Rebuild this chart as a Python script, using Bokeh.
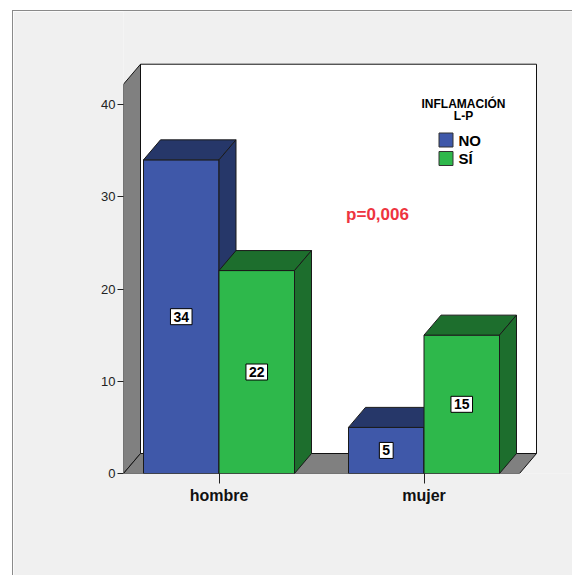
from bokeh.plotting import figure
from bokeh.models import Range1d, FixedTicker, Label
from bokeh.embed import file_html
from bokeh.resources import INLINE

# ---- data ----
categories = ["hombre", "mujer"]
series = ["NO", "SÍ"]
no_vals = [34, 5]
si_vals = [22, 15]
y_ticks = [0, 10, 20, 30, 40]
y_axis_title = "n"
legend_title = ["INFLAMACIÓN", "L-P"]
p_text = "p=0,006"

# ---- style / geometry ----
FONT = "Liberation Sans"
BG = "#F0F0F0"
WALL = "#808080"
COLORS_FRONT = {"NO": "#3F58A9", "SÍ": "#2EB84B"}
COLORS_DARK = {"NO": "#263769", "SÍ": "#1D6E2D"}
PX_X = 205.0      # pixels per category step
PX_Y = 9.225      # pixels per count unit
W, H = 560, 565
ORG_X, ORG_Y = 13, 11
FRAME_LEFT = 123 - ORG_X
FRAME_BOTTOM = 473 - ORG_Y
BAR_W = 75.5 / PX_X
PAD = 20.0 / PX_X
DX = 17.0 / PX_X
DY = 20.0 / PX_Y
Y_TOP = 42.2

pos = [i + 1 for i in range(len(categories))]
x_start = pos[0] - BAR_W - PAD
x_front_end = pos[-1] + BAR_W + PAD
x_end = x_start + (W - FRAME_LEFT) / PX_X
y_end = FRAME_BOTTOM / PX_Y

p = figure(width=W, height=H, output_backend="svg", toolbar_location=None,
           x_range=Range1d(x_start, x_end), y_range=Range1d(0, y_end),
           min_border_left=FRAME_LEFT, min_border_bottom=H - FRAME_BOTTOM,
           min_border_top=0, min_border_right=0,
           background_fill_color=BG, border_fill_color=BG,
           outline_line_color=None,
           styles={"margin-left": "12px", "margin-top": "10px",
                   "border-left": "1px solid #8a8a8a",
                   "border-top": "1px solid #8a8a8a"})
p.grid.visible = False

# ---- walls ----
p.quad(left=[x_start + DX], right=[x_front_end + DX], bottom=[DY], top=[Y_TOP + DY],
       fill_color="white", line_color="#111111", line_width=1)
p.patch([x_start, x_start + DX, x_start + DX, x_start],
        [0, DY, Y_TOP + DY, Y_TOP], fill_color=WALL, line_color="#111111", line_width=1)
p.patch([x_start, x_front_end, x_front_end + DX, x_start + DX],
        [0, 0, DY, DY], fill_color=WALL, line_color="#111111", line_width=1)

# ---- 3D bars ----
def draw_series(name, vals, offset):
    lefts = [c + offset for c in pos]
    rights = [l + BAR_W for l in lefts]
    p.quad(left=lefts, right=rights, bottom=[0] * len(vals), top=vals,
           fill_color=COLORS_FRONT[name], line_color="#1a1a1a", line_width=1)
    top_xs = [[l, r, r + DX, l + DX] for l, r in zip(lefts, rights)]
    top_ys = [[h, h, h + DY, h + DY] for h in vals]
    p.patches(top_xs, top_ys, fill_color=COLORS_DARK[name], line_color="#1a1a1a", line_width=1)
    side_xs = [[r, r + DX, r + DX, r] for r in rights]
    side_ys = [[0, DY, h + DY, h] for h in vals]
    p.patches(side_xs, side_ys, fill_color=COLORS_DARK[name], line_color="#1a1a1a", line_width=1)
    return lefts, rights

l_no, r_no = draw_series("NO", no_vals, -BAR_W)
l_si, r_si = draw_series("SÍ", si_vals, 0.0)

# value labels
lab_x = [(l + r) / 2 for l, r in zip(l_no, r_no)] + [(l + r) / 2 for l, r in zip(l_si, r_si)]
lab_vals = no_vals + si_vals
for xx, v in zip(lab_x, lab_vals):
    p.add_layout(Label(x=xx, y=v / 2, text=str(v), text_align="center",
                       text_baseline="middle", text_font=FONT, text_font_style="bold",
                       text_font_size="14px", text_color="black",
                       background_fill_color="white", border_line_color="black",
                       border_line_width=1, padding=3))

# ---- axes ----
p.xaxis.ticker = FixedTicker(ticks=pos)
p.xaxis.major_label_overrides = {c: n for c, n in zip(pos, categories)}
p.xaxis.axis_line_color = None
p.xaxis.major_tick_out = 10
p.xaxis.major_tick_in = 0
p.xaxis.minor_tick_line_color = None
p.xaxis.major_tick_line_color = "#222222"
p.xaxis.major_label_standoff = 3
p.xaxis.major_label_text_font = FONT
p.xaxis.major_label_text_font_style = "bold"
p.xaxis.major_label_text_font_size = "16px"
p.xaxis.major_label_text_color = "#111111"

p.yaxis.ticker = FixedTicker(ticks=y_ticks)
p.yaxis.axis_line_color = None
p.yaxis.major_tick_out = 6
p.yaxis.major_tick_in = 0
p.yaxis.minor_tick_line_color = None
p.yaxis.major_tick_line_color = "#222222"
p.yaxis.major_label_standoff = 2
p.yaxis.major_label_text_font = FONT
p.yaxis.major_label_text_font_size = "13px"
p.yaxis.major_label_text_color = "#222222"

def px_to_x(px):
    return x_start + (px - (FRAME_LEFT + ORG_X)) / PX_X

def py_to_y(py):
    return (FRAME_BOTTOM + ORG_Y - py) / PX_Y

p.add_layout(Label(x=px_to_x(57), y=py_to_y(283), text=y_axis_title, text_align="center",
                   text_baseline="middle", text_font=FONT, text_font_style="bold",
                   text_font_size="16px", text_color="#111111"))

# ---- p-value ----
p.add_layout(Label(x=px_to_x(377), y=py_to_y(214), text=p_text, text_align="center",
                   text_baseline="middle", text_font=FONT, text_font_style="bold",
                   text_font_size="17px", text_color="#EE3440"))

# ---- legend ----
p.add_layout(Label(x=px_to_x(463), y=py_to_y(103), text=legend_title[0], text_align="center",
                   text_baseline="middle", text_font=FONT, text_font_style="bold",
                   text_font_size="12px", text_color="black"))
p.add_layout(Label(x=px_to_x(463), y=py_to_y(115), text=legend_title[1], text_align="center",
                   text_baseline="middle", text_font=FONT, text_font_style="bold",
                   text_font_size="12px", text_color="black"))
sw_y = [py_to_y(139.5), py_to_y(158)]
p.scatter(x=[px_to_x(445.5)] * 2, y=sw_y, marker="square", size=14,
          fill_color=[COLORS_FRONT[s] for s in series], line_color="#333333", line_width=1)
for s, yy in zip(series, sw_y):
    p.add_layout(Label(x=px_to_x(458), y=yy, text=s, text_align="left",
                       text_baseline="middle", text_font=FONT, text_font_style="bold",
                       text_font_size="15px", text_color="black"))

open("out.html", "w").write(file_html(p, INLINE))
